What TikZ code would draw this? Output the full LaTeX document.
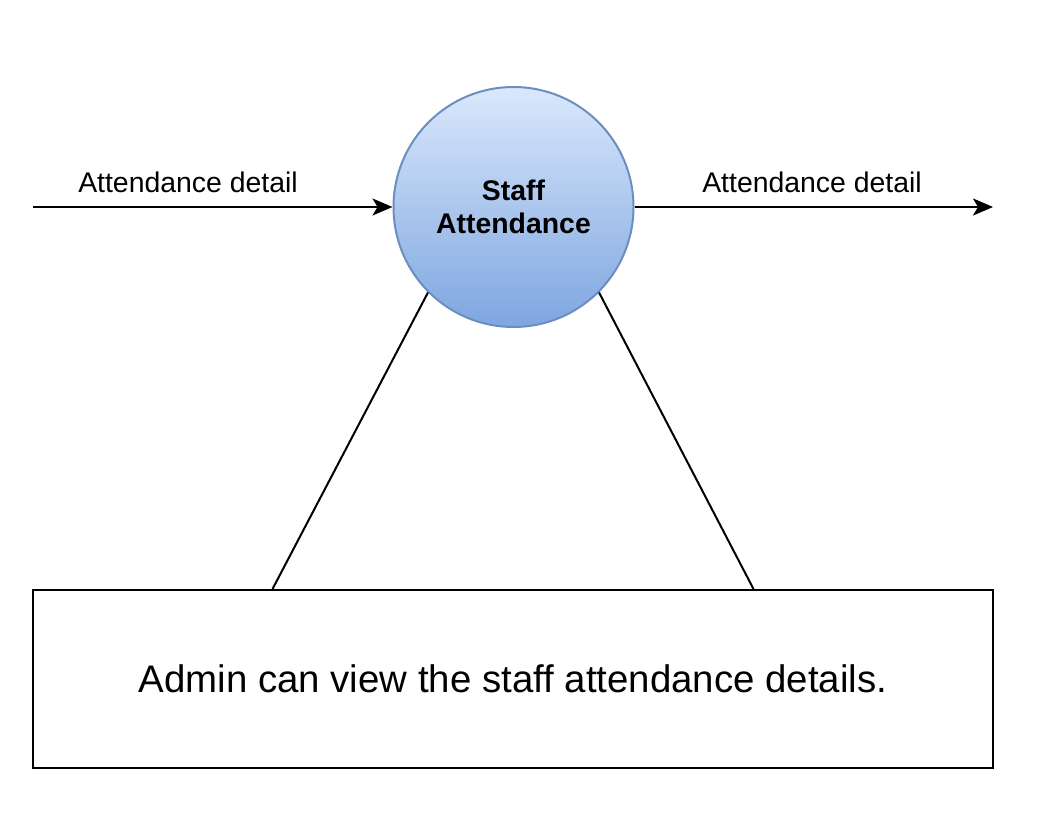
\documentclass[tikz,border=0pt]{standalone}
\usepackage{fontspec}
\setmainfont{Liberation Sans}
\usetikzlibrary{arrows.meta,calc}

\definecolor{procfill}{HTML}{DAE8FC}
\definecolor{procshade}{HTML}{7EA6E0}
\definecolor{procline}{HTML}{6C8EBF}

\begin{document}
\begin{tikzpicture}[x=0.5pt, y=-0.5pt, line width=1pt,
  >={Stealth[length=10pt,width=8.5pt,inset=2.5pt]},
  process/.style={circle, draw=procline, top color=procfill, bottom color=procshade,
    minimum size=120pt, inner sep=0pt, align=center,
    font=\bfseries\fontsize{14.2}{16.5}\selectfont},
  flowlabel/.style={font=\fontsize{14.2}{16}\selectfont},
  notebox/.style={draw, minimum width=480pt, minimum height=89pt, inner sep=0pt,
    font=\fontsize{19.2}{22}\selectfont}]

\useasboundingbox (0,0) rectangle (1042,834);

\node[process] (proc) at (513.5,207) {Staff\\Attendance};

\coordinate (src) at (33,207);
\coordinate (sink) at (993,207);

\draw[->] (src) -- (proc.west);
\draw[->] (proc.east) -- (sink);

\node[flowlabel] (inlabel) at (188,182) {Attendance detail};
\node[flowlabel] (outlabel) at (812,182) {Attendance detail};

\node[notebox] (note) at (513,679) {Admin can view the staff attendance details.};

\draw (proc.south west) -- ($(note.north west)!0.25!(note.north east)$);
\draw (proc.south east) -- ($(note.north west)!0.75!(note.north east)$);

\end{tikzpicture}
\end{document}
